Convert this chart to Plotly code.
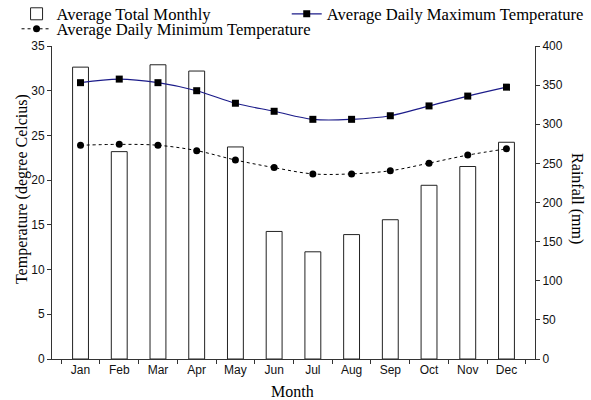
import plotly.graph_objects as go

months = ["Jan", "Feb", "Mar", "Apr", "May", "Jun", "Jul", "Aug", "Sep", "Oct", "Nov", "Dec"]
rainfall = [373, 265, 376, 368, 271, 163, 137, 159, 178, 222, 246, 277]
max_temp = [30.9, 31.3, 30.9, 30.0, 28.6, 27.7, 26.8, 26.8, 27.2, 28.3, 29.4, 30.4]
min_temp = [23.9, 24.0, 23.9, 23.3, 22.25, 21.4, 20.7, 20.7, 21.05, 21.9, 22.8, 23.5]

SERIF = "Liberation Serif, Times New Roman, serif"
SANS = "Liberation Sans, Arial, sans-serif"

fig = go.Figure()
fig.add_trace(go.Bar(
    x=months, y=rainfall, name="Average Total Monthly", yaxis="y",
    marker=dict(color="white", line=dict(color="#222", width=1)),
    width=0.41, legend="legend", showlegend=True,
))
fig.add_trace(go.Scatter(
    x=months, y=min_temp, name="Average Daily Minimum Temperature", yaxis="y2",
    mode="lines+markers", line=dict(color="black", width=1, dash="dot", shape="spline"),
    marker=dict(symbol="circle", size=7, color="black"), legend="legend3", showlegend=True,
))
fig.add_trace(go.Scatter(
    x=months, y=max_temp, name="Average Daily Maximum Temperature", yaxis="y2",
    mode="lines+markers", line=dict(color="#1c1c8a", width=1.2, shape="spline"),
    marker=dict(symbol="square", size=7, color="black"), legend="legend2", showlegend=True,
))

axis_common = dict(showgrid=False, zeroline=False, showline=True, linecolor="#333", linewidth=1,
                   ticks="outside", ticklen=4, tickcolor="#333",
                   tickfont=dict(family=SANS, size=12, color="#111"))

leg_common = dict(xanchor="left", yanchor="middle", orientation="v",
                  font=dict(family=SERIF, size=16.6, color="black"),
                  bgcolor="rgba(0,0,0,0)", borderwidth=0, itemwidth=30)

fig.update_layout(
    width=591, height=400,
    margin=dict(l=52, r=56, t=46, b=41, autoexpand=False),
    plot_bgcolor="white", paper_bgcolor="white",
    barmode="overlay", showlegend=True,
    xaxis=dict(**axis_common, tickson="boundaries", type="category"),
    yaxis=dict(**axis_common, range=[0, 400], dtick=50, side="right"),
    yaxis2=dict(**axis_common, range=[0, 35], dtick=5, overlaying="y", side="left"),
    legend=dict(x=-0.0734, y=(359 - 14) / 313, **leg_common),
    legend3=dict(x=-0.0734, y=(359 - 29) / 313, **leg_common),
    legend2=dict(x=0.486, y=(359 - 14) / 313, **leg_common),
    annotations=[
        dict(text="Temperature (degree Celcius)", xref="paper", yref="paper", x=0, y=0.543,
             xshift=-30, textangle=-90, showarrow=False, xanchor="center", yanchor="middle",
             font=dict(family=SERIF, size=16, color="black")),
        dict(text="Rainfall (mm)", xref="paper", yref="paper", x=1, y=0.514,
             xshift=42, textangle=90, showarrow=False, xanchor="center", yanchor="middle",
             font=dict(family=SERIF, size=16, color="black")),
        dict(text="Month", xref="paper", yref="paper", x=0.497, y=0,
             yshift=-32, showarrow=False, xanchor="center", yanchor="middle",
             font=dict(family=SERIF, size=16, color="black")),
    ],
)

fig.write_html("out.html", config={"displayModeBar": False},
               post_script="document.body.style.margin='0';document.body.style.overflow='hidden';")
